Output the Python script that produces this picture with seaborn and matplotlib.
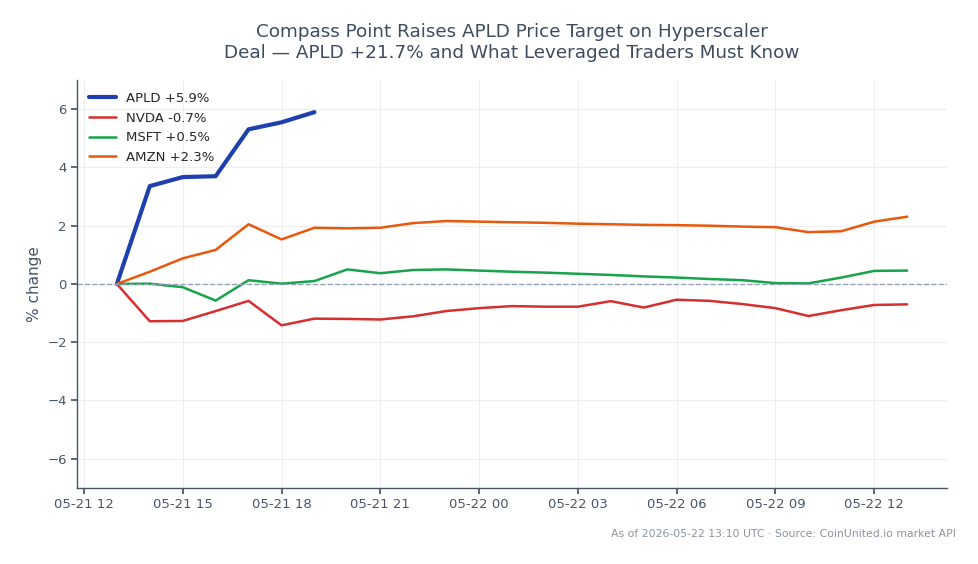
import numpy as np
import pandas as pd
import matplotlib
matplotlib.use("Agg")
import matplotlib.pyplot as plt
import matplotlib.dates as mdates
import seaborn as sns

# hourly % change from 2026-05-21 13:00 UTC
times = pd.date_range("2026-05-21 13:00", periods=25, freq="h")

apld = [0, 3.36, 3.67, 3.70, 5.31, 5.55, 5.90]
nvda = [0, -1.28, -1.27, -0.93, -0.58, -1.42, -1.19, -1.20, -1.22, -1.11,
        -0.93, -0.83, -0.76, -0.78, -0.78, -0.59, -0.81, -0.54, -0.58, -0.69,
        -0.83, -1.10, -0.90, -0.72, -0.70]
msft = [0, 0.01, -0.11, -0.57, 0.13, 0.01, 0.10, 0.50, 0.37, 0.48,
        0.50, 0.46, 0.42, 0.39, 0.35, 0.31, 0.26, 0.22, 0.17, 0.13,
        0.03, 0.02, 0.22, 0.45, 0.46]
amzn = [0, 0.42, 0.88, 1.17, 2.05, 1.53, 1.93, 1.91, 1.93, 2.09,
        2.16, 2.14, 2.12, 2.10, 2.07, 2.05, 2.03, 2.02, 2.00, 1.97,
        1.95, 1.78, 1.81, 2.14, 2.31]

labels = ["APLD +5.9%", "NVDA -0.7%", "MSFT +0.5%", "AMZN +2.3%"]
colors = ["#1e40af", "#d62f2f", "#16a34a", "#ea580c"]
widths = [3.0, 1.8, 1.8, 1.8]

sns.set_theme(style="whitegrid")
plt.rcParams['font.family'] = ['DejaVu Sans']

fig, ax = plt.subplots(figsize=(9.79, 5.64), dpi=100)
fig.subplots_adjust(left=0.079, right=0.967, bottom=0.135, top=0.858)

for vals, lab, col, lw in zip([apld, nvda, msft, amzn], labels, colors, widths):
    d = pd.DataFrame({"time": times[:len(vals)], "pct": vals})
    sns.lineplot(data=d, x="time", y="pct", ax=ax, color=col, linewidth=lw, label=lab)

ax.axhline(0, color="#94a3b8", linestyle="--", linewidth=1)

ax.set_ylim(-7, 7)
ax.set_yticks([-6, -4, -2, 0, 2, 4, 6])
ax.xaxis.set_major_locator(mdates.HourLocator(byhour=range(0, 24, 3)))
ax.xaxis.set_major_formatter(mdates.DateFormatter("%m-%d %H"))

ax.grid(True, color="#eceef1", linewidth=0.8)
for s in ["top", "right"]:
    ax.spines[s].set_visible(False)
for s in ["left", "bottom"]:
    ax.spines[s].set_color("#475569")
    ax.spines[s].set_linewidth(1)
ax.tick_params(axis="both", colors="#475569", labelsize=9.5, length=4,
               bottom=True, left=True, labelcolor="#475569")

ax.set_xlabel("")
ax.set_ylabel("% change", fontsize=11, color="#475569")
ax.set_title("Compass Point Raises APLD Price Target on Hyperscaler\n"
             "Deal \u2014 APLD +21.7% and What Leveraged Traders Must Know",
             fontsize=13.2, color="#3f4b5e", pad=16)

ax.legend(loc="upper left", frameon=False, fontsize=9.5)

fig.text(0.976, 0.044, "As of 2026-05-22 13:10 UTC \u00b7 Source: CoinUnited.io market API",
         ha="right", va="bottom", fontsize=7.85, color="#8a94a3")

fig.savefig("out.png", dpi=100, facecolor="white")
